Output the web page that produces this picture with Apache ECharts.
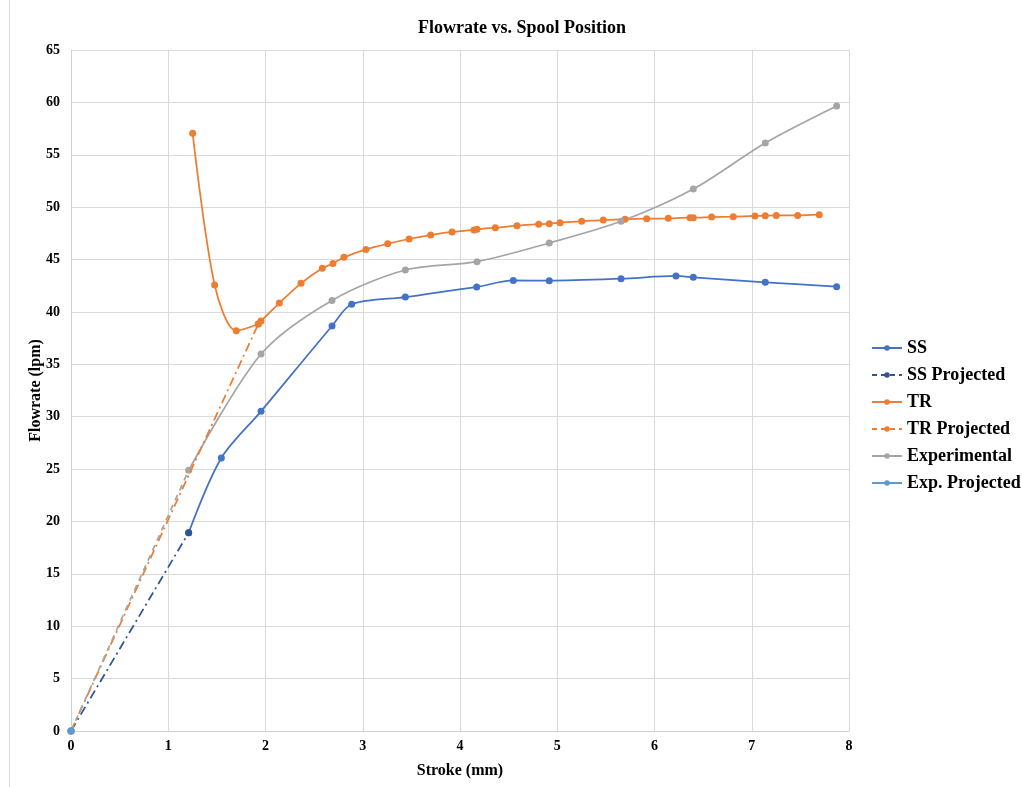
<!DOCTYPE html>
<html>
<head>
<meta charset="utf-8">
<title>Flowrate vs. Spool Position</title>
<script src="https://cdn.jsdelivr.net/npm/echarts@6/dist/echarts.min.js"></script>
<style>
  html, body { margin: 0; padding: 0; background: #ffffff; }
  #chart { width: 1022px; height: 787px; }
</style>
</head>
<body>
<div id="chart"></div>
<script>
// Stroke (mm) and flowrate (lpm) for each data series
var ssStroke = [1.21, 1.546, 1.954, 2.684, 2.886, 3.438, 4.172, 4.548, 4.918, 5.656, 6.221, 6.399, 7.139, 7.873];
var ssFlow   = [18.93, 26.06, 30.51, 38.66, 40.73, 41.42, 42.38, 43.0, 42.98, 43.17, 43.43, 43.30, 42.83, 42.41];

var ssProjStroke = [0, 1.21];
var ssProjFlow   = [0, 18.93];

var trStroke = [1.251, 1.477, 1.700, 1.926, 1.954, 2.142, 2.365, 2.584, 2.694, 2.807, 3.033, 3.257, 3.476,
                3.699, 3.918, 4.144, 4.175, 4.363, 4.586, 4.809, 4.918, 5.028, 5.251, 5.473, 5.697, 5.920,
                6.142, 6.365, 6.399, 6.587, 6.810, 7.033, 7.139, 7.252, 7.472, 7.694];
var trFlow   = [57.05, 42.57, 38.21, 38.85, 39.13, 40.85, 42.73, 44.16, 44.63, 45.21, 45.97, 46.51, 46.96,
                47.34, 47.63, 47.82, 47.88, 48.04, 48.23, 48.37, 48.42, 48.52, 48.65, 48.77, 48.84, 48.90,
                48.93, 48.99, 48.99, 49.06, 49.09, 49.16, 49.19, 49.21, 49.21, 49.28];

var trProjStroke = [0, 1.926];
var trProjFlow   = [0, 38.85];

var expStroke = [1.21, 1.954, 2.684, 3.438, 4.175, 4.918, 5.656, 6.399, 7.139, 7.873];
var expFlow   = [24.88, 35.98, 41.1, 44.0, 44.8, 46.58, 48.65, 51.73, 56.12, 59.65];

var expProjStroke = [0, 1.21];
var expProjFlow   = [0, 24.88];

function pairs(xs, ys) {
  return xs.map(function (x, i) { return [x, ys[i]]; });
}

var FONT = '"Liberation Serif", "Times New Roman", serif';
var C_SS = '#4472C4', C_SSP = '#2F5597', C_TR = '#ED7D31', C_EXP = '#A5A5A5', C_EXPP = '#5B9BD5';
var DASH_DOT = [9, 4, 2, 4];

// Projected experimental line: marker only at the origin
var expProjData = pairs(expProjStroke, expProjFlow).map(function (p, i) {
  return i === 0 ? { value: p } : { value: p, symbolSize: 0 };
});

var chart = echarts.init(document.getElementById('chart'), null, { renderer: 'canvas' });

chart.setOption({
  animation: false,
  backgroundColor: '#ffffff',
  title: {
    text: 'Flowrate vs. Spool Position',
    left: 517, top: 14, textAlign: 'center',
    textStyle: { fontFamily: FONT, fontWeight: 'bold', fontSize: 18, color: '#000' }
  },
  legend: {
    orient: 'vertical',
    left: 866, top: 334,
    itemWidth: 30, itemHeight: 7, itemGap: 9,
    textStyle: { fontFamily: FONT, fontWeight: 'bold', fontSize: 18, color: '#000' },
    data: [
      { name: 'SS' },
      { name: 'SS Projected', lineStyle: { type: [5, 4] } },
      { name: 'TR' },
      { name: 'TR Projected', lineStyle: { type: [5, 4] } },
      { name: 'Experimental' },
      { name: 'Exp. Projected', lineStyle: { color: C_EXPP, type: 'solid' } }
    ]
  },
  grid: { left: 71, right: 173, top: 50, bottom: 56, containLabel: false },
  xAxis: {
    type: 'value', min: 0, max: 8, interval: 1,
    name: 'Stroke (mm)', nameLocation: 'middle', nameGap: 32, nameMoveOverlap: false,
    nameTextStyle: { fontFamily: FONT, fontWeight: 'bold', fontSize: 16, color: '#000' },
    axisLine: { show: true, lineStyle: { color: '#d0d0d0', width: 1 } },
    axisTick: { show: false },
    axisLabel: { fontFamily: FONT, fontWeight: 'bold', fontSize: 14, color: '#000', margin: 8 },
    splitLine: { show: true, lineStyle: { color: '#d9d9d9', width: 1 } }
  },
  yAxis: {
    type: 'value', min: 0, max: 65, interval: 5,
    name: 'Flowrate (lpm)', nameLocation: 'middle', nameGap: 27, nameMoveOverlap: false,
    nameTextStyle: { fontFamily: FONT, fontWeight: 'bold', fontSize: 16, color: '#000' },
    axisLine: { show: true, lineStyle: { color: '#d0d0d0', width: 1 } },
    axisTick: { show: false },
    axisLabel: { fontFamily: FONT, fontWeight: 'bold', fontSize: 14, color: '#000', margin: 11 },
    splitLine: { show: true, lineStyle: { color: '#d9d9d9', width: 1 } }
  },
  graphic: [
    { type: 'line', shape: { x1: 9.5, y1: 0, x2: 9.5, y2: 787 }, style: { stroke: '#d9d9d9', lineWidth: 1 }, silent: true }
  ],
  series: [
    {
      name: 'SS', type: 'line', smooth: 0.3, data: pairs(ssStroke, ssFlow),
      symbol: 'circle', symbolSize: 7, z: 3,
      lineStyle: { color: C_SS, width: 1.75 }, itemStyle: { color: C_SS }
    },
    {
      name: 'SS Projected', type: 'line', data: pairs(ssProjStroke, ssProjFlow),
      symbol: 'circle', symbolSize: 7, z: 4,
      lineStyle: { color: C_SSP, width: 1.75, type: DASH_DOT }, itemStyle: { color: C_SSP }
    },
    {
      name: 'TR', type: 'line', smooth: 0.3, data: pairs(trStroke, trFlow),
      symbol: 'circle', symbolSize: 7, z: 3,
      lineStyle: { color: C_TR, width: 1.75 }, itemStyle: { color: C_TR }
    },
    {
      name: 'TR Projected', type: 'line', data: pairs(trProjStroke, trProjFlow),
      symbol: 'circle', symbolSize: 7, z: 4,
      lineStyle: { color: C_TR, width: 1.75, type: DASH_DOT }, itemStyle: { color: C_TR }
    },
    {
      name: 'Experimental', type: 'line', smooth: 0.3, data: pairs(expStroke, expFlow),
      symbol: 'circle', symbolSize: 7, z: 3,
      lineStyle: { color: C_EXP, width: 1.75 }, itemStyle: { color: C_EXP }
    },
    {
      name: 'Exp. Projected', type: 'line', data: expProjData,
      symbol: 'circle', symbolSize: 7, z: 5,
      lineStyle: { color: C_EXP, width: 1.75, type: [6, 5] }, itemStyle: { color: C_EXPP }
    }
  ]
});
</script>
</body>
</html>
